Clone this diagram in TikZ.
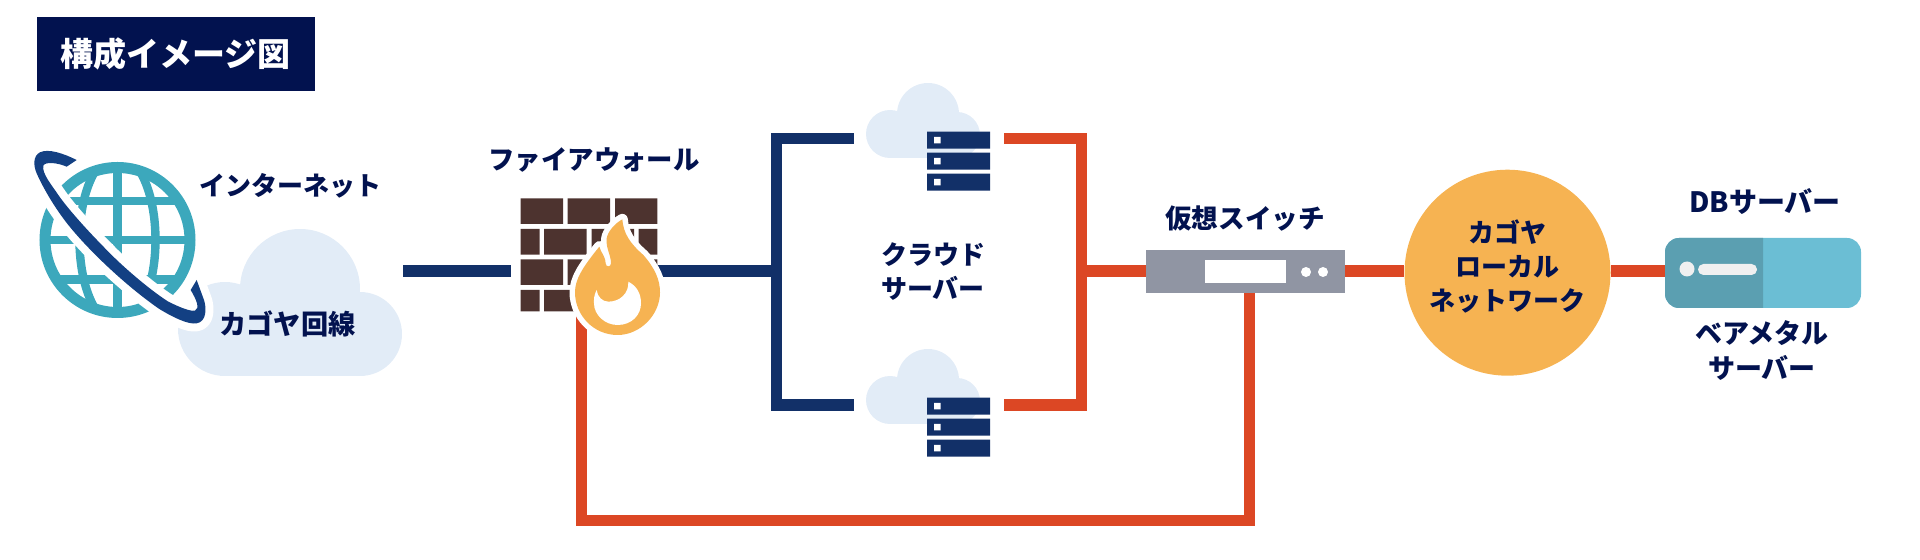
\documentclass[tikz,border=0pt]{standalone}
\usepackage{fontspec}
\setmainfont{Noto Sans CJK JP}
\definecolor{ink}{HTML}{02124F}
\definecolor{navyline}{HTML}{123068}
\definecolor{redline}{HTML}{DC4724}
\definecolor{cloudfill}{HTML}{E2ECF7}
\definecolor{globeteal}{HTML}{3CA8BC}
\definecolor{ringblue}{HTML}{134083}
\definecolor{brick}{HTML}{4D332F}
\definecolor{flamefill}{HTML}{F6B352}
\definecolor{switchgrey}{HTML}{9095A3}
\definecolor{dbdark}{HTML}{5B9FB1}
\definecolor{dblight}{HTML}{6BBED4}
\tikzset{
  x=0.5pt,y=-0.5pt,
  label text/.style={text=ink,font=\fontsize{13}{17}\selectfont\bfseries,align=center,inner sep=0pt},
  navy wire/.style={draw=navyline,line width=5.75pt,miter limit=10},
  red wire/.style={draw=redline,line width=5.75pt,miter limit=10},
  servercloud/.pic={
    \fill[cloudfill] (890,134) circle[radius=24];
    \fill[cloudfill] (928,114) circle[radius=31];
    \fill[cloudfill] (957,135) circle[radius=23];
    \fill[cloudfill] (890,125) rectangle (957,158);
    \fill[navyline] (927,131.7) rectangle (990,148.7) (927,152.7) rectangle (990,169.7) (927,173.7) rectangle (990,190.7);
    \fill[white] (934,137) rectangle (940.7,143.5) (934,158) rectangle (940.7,164.5) (934,179) rectangle (940.7,185.5);
  }
}
\begin{document}
\begin{tikzpicture}
\useasboundingbox (0,0) rectangle (1920,560);
% title
\node[fill=ink,text=white,font=\fontsize{16.5}{20}\selectfont\bfseries,inner sep=0pt,minimum width=139pt,minimum height=37pt] (title) at (175.5,54) {構成イメージ図};
% connectors
\coordinate (inS) at (403,271);
\coordinate (inE) at (511,271);
\coordinate (fwOut) at (620,271);
\coordinate (brTop) at (853.5,138.5);
\coordinate (brTopC) at (776.7,138.5);
\coordinate (brBot) at (853.5,405);
\coordinate (brBotC) at (776.7,405);
\coordinate (brMid) at (776.7,271);
\coordinate (rTop) at (1004,138.5);
\coordinate (rTopC) at (1081.5,138.5);
\coordinate (rBot) at (1004,405);
\coordinate (rBotC) at (1081.5,405);
\coordinate (rMid) at (1081.5,271);
\coordinate (swDown) at (1249.7,293);
\coordinate (lowR) at (1249.7,520.3);
\coordinate (lowL) at (581.5,520.3);
\coordinate (fwIn) at (581.5,300);
\node[fill=switchgrey,inner sep=0pt,minimum width=99.5pt,minimum height=21.5pt] (sw) at (1245.5,271.5) {};
\node[circle,fill=flamefill,inner sep=0pt,minimum size=103pt] (lan) at (1507.5,272.7) {};
\node[inner sep=0pt,minimum width=98pt,minimum height=35pt] (db) at (1763,273) {};
\draw[navy wire] (inS) -- (inE);
\draw[navy wire] (fwOut) -- (brMid);
\draw[navy wire] (brTop) -- (brTopC) -- (brBotC) -- (brBot);
\draw[red wire] (rTop) -- (rTopC) -- (rBotC) -- (rBot);
\draw[red wire] (rMid) -- (sw.west |- rMid);
\draw[red wire] (sw.east |- rMid) -- (lan.west |- rMid);
\draw[red wire] (lan.east |- rMid) -- (db.west |- rMid);
\draw[red wire] (swDown) -- (lowR) -- (lowL) -- (fwIn);
% switch details
\fill[white] (1205,260) rectangle (1286,283);
\fill[white] (1306,272) circle[radius=5];
\fill[white] (1323,272) circle[radius=5];
% circle label
\node[label text,text width=100pt,font=\fontsize{13}{17.1}\selectfont\bfseries] (lanlabel) at (lan) [yshift=3pt] {カゴヤ\\ローカル\\ネットワーク};
% DB
\fill[dblight,rounded corners=7pt] (1665,238) rectangle (1861,308);
\begin{scope}
\clip (1665,238) rectangle (1763,308);
\fill[dbdark,rounded corners=7pt] (1665,238) rectangle (1861,308);
\end{scope}
\fill[white!94!black] (1687,269) circle[radius=7.5];
\fill[white!94!black,rounded corners=2.7pt] (1698,264) rectangle (1757,275);
% clouds and servers
\pic at (0,0) {servercloud};
\pic at (0,266) {servercloud};
% big cloud
\fill[cloudfill] (225,329) circle[radius=47];
\fill[cloudfill] (300,289) circle[radius=60];
\fill[cloudfill] (360,334) circle[radius=42];
\fill[cloudfill] (225,300) rectangle (360,376);
% globe
\begin{scope}
\clip (117.5,240) circle[radius=75];
\draw[globeteal,line width=4.2pt] (117.5,240) ellipse[x radius=38,y radius=85];
\draw[globeteal,line width=4.2pt] (117.5,162) -- (117.5,318);
\draw[globeteal,line width=4.2pt] (39,201) -- (196,201) (39,240) -- (196,240) (39,279.5) -- (196,279.5);
\end{scope}
\draw[globeteal,line width=5.5pt] (117.5,240) circle[radius=72.5];
% ring
\begin{scope}[shift={(25,145)},scale=1/3]
\def\ringpath{(155,45) .. controls (115,25) and (70,10) .. (45,22) .. controls (25,32) and (24,60) .. (35,85)
 .. controls (55,130) and (90,190) .. (130,240) .. controls (190,315) and (300,420) .. (400,490)
 .. controls (440,515) and (490,540) .. (515,535) .. controls (545,530) and (545,490) .. (537,465) -- (515,405)
 -- (497,435) .. controls (515,465) and (525,490) .. (510,497) .. controls (495,500) and (460,485) .. (430,470)
 .. controls (375,435) and (300,370) .. (260,330) .. controls (200,270) and (135,200) .. (100,150)
 .. controls (80,120) and (50,85) .. (55,62) .. controls (60,50) and (95,52) .. (125,65) -- cycle}
\draw[white,line width=8pt,line join=round] \ringpath;
\fill[ringblue] \ringpath;
\end{scope}
% bricks
\fill[brick]
 (520.7,198.3) rectangle (563,224) (567.7,198.3) rectangle (610,224) (615,198.3) rectangle (657.3,224)
 (520.7,229) rectangle (539.7,254.7) (544,229) rectangle (586.7,254.7) (591.7,229) rectangle (634,254.7) (638.7,229) rectangle (657.3,254.7)
 (520.7,259.3) rectangle (563,285) (567.7,259.3) rectangle (610,285) (615,259.3) rectangle (657.3,285)
 (520.7,290) rectangle (539.7,311.3) (544,290) rectangle (586.7,311.3) (591.7,290) rectangle (634,311.3) (638.7,290) rectangle (657.3,311.3);
% flame
\begin{scope}[shift={(565,205)},scale=1/3]
\def\flamepath{(172,43) .. controls (175,85) and (195,115) .. (235,150) .. controls (270,190) and (285,225) .. (285,262)
 .. controls (285,330) and (225,390) .. (158,390) .. controls (85,390) and (30,330) .. (30,262)
 .. controls (30,225) and (50,190) .. (103,125) .. controls (108,145) and (120,150) .. (122,175)
 .. controls (122,187) and (138,187) .. (138,175) .. controls (138,150) and (122,130) .. (125,100)
 .. controls (128,80) and (150,55) .. (172,43) -- cycle}
\draw[white,line width=5.5pt,line join=round] \flamepath;
\fill[flamefill] \flamepath;
\fill[white] (190,230) .. controls (192,265) and (165,290) .. (130,290) .. controls (112,290) and (97,275) .. (95,255)
 .. controls (85,275) and (87,285) .. (87,295) .. controls (87,330) and (120,360) .. (158,360)
 .. controls (200,360) and (228,330) .. (228,295) .. controls (228,265) and (215,243) .. (190,230) -- cycle;
\end{scope}
% labels
\node[label text] (lblnet) at (290,186) {インターネット};
\node[label text,font=\fontsize{13.6}{17}\selectfont\bfseries] (lblkagoya) at (287.5,324) {カゴヤ回線};
\node[label text,font=\fontsize{13.2}{17}\selectfont\bfseries] (lblfw) at (594,160.5) {ファイアウォール};
\node[label text] (lblcloud) at (933,272) {クラウド\\サーバー};
\node[label text,font=\fontsize{13.3}{17}\selectfont\bfseries] (lblsw) at (1245,218.5) {仮想スイッチ};
\node[label text,font=\fontsize{14}{17}\selectfont\bfseries] (lbldb) at (1765,202) {DBサーバー};
\node[label text,font=\fontsize{13.5}{17.5}\selectfont\bfseries] (lblbare) at (1762,350.5) {ベアメタル\\サーバー};
\end{tikzpicture}
\end{document}
